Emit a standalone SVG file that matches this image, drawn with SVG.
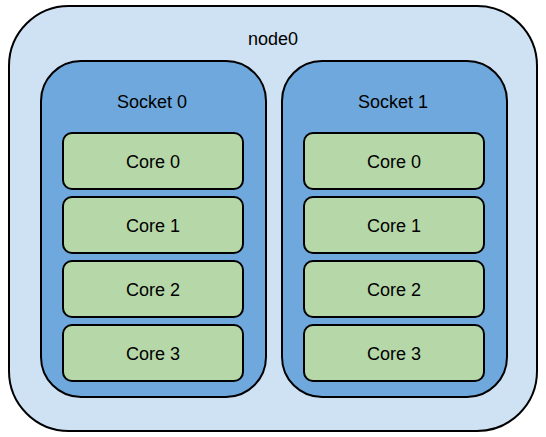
<svg xmlns="http://www.w3.org/2000/svg" width="546" height="437" viewBox="0 0 546 437">
<style>
.n{fill:#cfe2f3;stroke:#000;stroke-width:2}
.s{fill:#6fa8dc;stroke:#000;stroke-width:2}
.c{fill:#b6d7a8;stroke:#000;stroke-width:2}
text{font-family:"Liberation Sans",Arial,sans-serif;font-size:18px;fill:#000;text-anchor:middle}
</style>
<g id="node0"><rect class="n" x="9" y="6" width="528" height="425" rx="60" ry="60"/><text x="273" y="45">node0</text></g>
<g id="socket0"><rect class="s" x="41" y="61" width="225" height="336" rx="40" ry="40"/><text x="152" y="108">Socket 0</text></g>
<g id="socket1"><rect class="s" x="282" y="61" width="225" height="336" rx="40" ry="40"/><text x="393" y="108">Socket 1</text></g>
<g id="s0c0"><rect class="c" x="63" y="133" width="180" height="56" rx="9"/><text x="153" y="167.5">Core 0</text></g>
<g id="s0c1"><rect class="c" x="63" y="197" width="180" height="56" rx="9"/><text x="153" y="231.5">Core 1</text></g>
<g id="s0c2"><rect class="c" x="63" y="261" width="180" height="56" rx="9"/><text x="153" y="295.5">Core 2</text></g>
<g id="s0c3"><rect class="c" x="63" y="325" width="180" height="56" rx="9"/><text x="153" y="359.5">Core 3</text></g>
<g id="s1c0"><rect class="c" x="304" y="133" width="180" height="56" rx="9"/><text x="394" y="167.5">Core 0</text></g>
<g id="s1c1"><rect class="c" x="304" y="197" width="180" height="56" rx="9"/><text x="394" y="231.5">Core 1</text></g>
<g id="s1c2"><rect class="c" x="304" y="261" width="180" height="56" rx="9"/><text x="394" y="295.5">Core 2</text></g>
<g id="s1c3"><rect class="c" x="304" y="325" width="180" height="56" rx="9"/><text x="394" y="359.5">Core 3</text></g>
<g id="connectors"></g>
</svg>
